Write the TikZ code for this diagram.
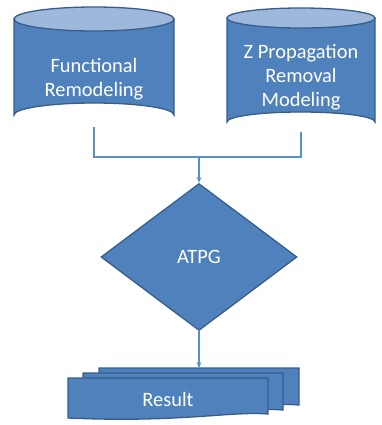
\documentclass[tikz,border=0pt]{standalone}
\usepackage{fontspec}
\setmainfont{Carlito}
\usetikzlibrary{shapes.geometric,arrows.meta}
\definecolor{bfill}{HTML}{4F81BD}
\definecolor{bline}{HTML}{385D8A}
\definecolor{btop}{HTML}{9DB8DB}
\definecolor{conn}{HTML}{5B8FCC}
\tikzset{
  shp/.style={fill=bfill,draw=bline,line width=1.3bp},
  topell/.style={fill=btop,draw=bline,line width=1.3bp},
  lbl/.style={text=white,font=\fontsize{20.5}{24}\selectfont,align=center},
  conline/.style={draw=conn,line width=1.6bp},
  arr/.style={conline,-{Stealth[length=6bp,width=5bp]}}
}
\begin{document}
\begin{tikzpicture}[x=1bp,y=-1bp]
\useasboundingbox (0,0) rectangle (382,425);
% left cylinder
\path[shp] (14,19) -- (14,115) arc[start angle=180,end angle=360,x radius=80,y radius=12] -- (174,19) -- cycle;
\path[topell] (94,19) ellipse[x radius=80,y radius=12];
\coordinate (lcb) at (94,127);
\node[lbl] (fr) at (94,79) {Functional\\Remodeling};
% right cylinder
\path[shp] (227,18) -- (227,122) arc[start angle=180,end angle=360,x radius=74,y radius=10] -- (375,18) -- cycle;
\path[topell] (301,18) ellipse[x radius=74,y radius=10];
\coordinate (rcb) at (301,132);
\node[lbl] (zp) at (301,77) {Z Propagation\\Removal\\Modeling};
% diamond
\node[diamond,shp,minimum width=196bp,minimum height=147bp,aspect=1.33,inner sep=0pt,lbl] (atpg) at (199,257) {ATPG};
% join
\coordinate (j) at (199,157);
\draw[conline] (lcb) |- (j) -| (rcb);
\draw[arr] (j) -- (atpg.north);
% result documents
\path[shp] (99,368) -- (299,368) -- (299,405) .. controls (260,402) and (230,412) .. (99,408) -- cycle;
\path[shp] (83,373) -- (283,373) -- (283,410) .. controls (245,407) and (215,417) .. (83,413) -- cycle;
\path[shp] (68,378) -- (268,378) -- (268,414) .. controls (230,411) and (180,423) .. (68,418) -- cycle;
\node[lbl] (res) at (168,399) {Result};
\coordinate (rtop) at (199,368);
\draw[arr] (atpg.south) -- (rtop);
\end{tikzpicture}
\end{document}
